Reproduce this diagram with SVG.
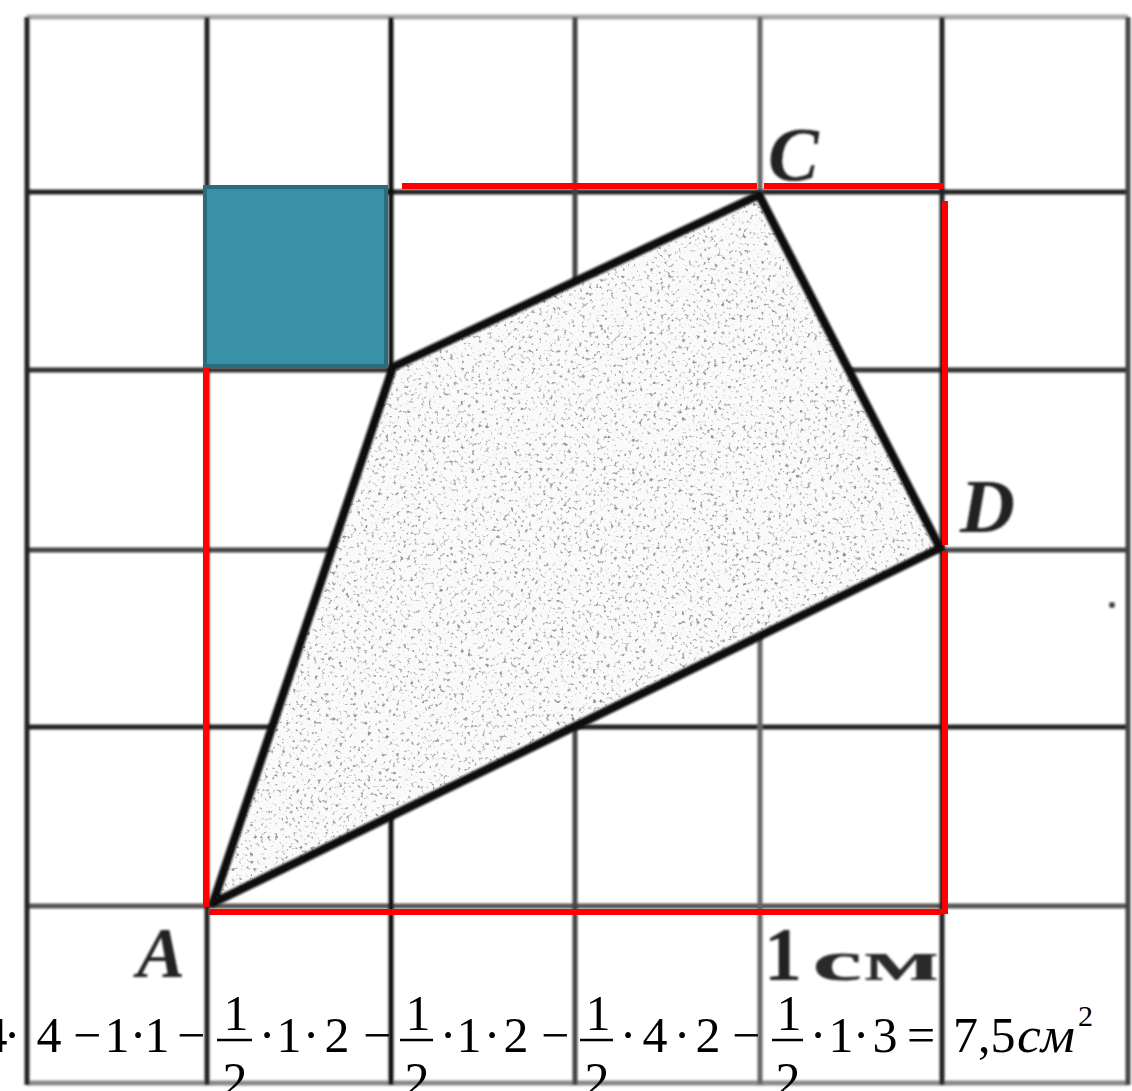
<svg xmlns="http://www.w3.org/2000/svg" width="1132" height="1091" viewBox="0 0 1132 1091">
<style>
.g{stroke-width:5;fill:none}
.red{stroke:#ff0000;stroke-width:6;fill:none}
.lbl{font-family:"Liberation Serif",serif;font-style:italic;font-weight:bold;fill:#222}
.m{font-family:"Liberation Serif",serif;font-size:50px;fill:#000;text-anchor:middle}
.bar{stroke:#000;stroke-width:2.5}
</style>
<defs>
<filter id="soft" x="-5%" y="-5%" width="110%" height="110%"><feGaussianBlur stdDeviation="0.9"/></filter>
<filter id="speckle" x="0" y="0" width="100%" height="100%">
<feTurbulence type="fractalNoise" baseFrequency="0.28" numOctaves="2" seed="7" result="n"/>
<feColorMatrix in="n" type="matrix" values="0 0 0 0 0.3  0 0 0 0 0.3  0 0 0 0 0.3  5 0 0 0 -2.95" result="dots"/>
<feComposite in="dots" in2="SourceGraphic" operator="in"/>
</filter>
</defs>
<rect width="1132" height="1091" fill="#ffffff"/>
<g id="grid" filter="url(#soft)">
<line class="g" x1="27" y1="17" x2="1128" y2="17" stroke="#aaa" stroke-width="8"/>
<line class="g" x1="27" y1="192" x2="1128" y2="192" stroke="#222"/>
<line class="g" x1="27" y1="370" x2="1128" y2="370" stroke="#333"/>
<line class="g" x1="27" y1="550" x2="1128" y2="550" stroke="#444"/>
<line class="g" x1="27" y1="727" x2="1128" y2="727" stroke="#222"/>
<line class="g" x1="27" y1="906" x2="1128" y2="906" stroke="#555"/>
<line class="g" x1="27" y1="1083" x2="1128" y2="1083" stroke="#888"/>
<line class="g" x1="27" y1="17" x2="27" y2="1085" stroke="#222"/>
<line class="g" x1="207" y1="17" x2="207" y2="1085" stroke="#222"/>
<line class="g" x1="391" y1="17" x2="391" y2="1085" stroke="#111"/>
<line class="g" x1="575" y1="17" x2="575" y2="1085" stroke="#444"/>
<line class="g" x1="760" y1="17" x2="760" y2="1085" stroke="#666" stroke-width="6"/>
<line class="g" x1="942" y1="17" x2="942" y2="1085" stroke="#222"/>
<line class="g" x1="1128" y1="17" x2="1128" y2="1085" stroke="#444"/>
<circle cx="1112" cy="605" r="3" fill="#444"/>
</g>
<g id="quad">
<polygon points="213,903 393,367 759,195 940,548" fill="#fafafa"/>
<polygon points="213,903 393,367 759,195 940,548" fill="#fff" filter="url(#speckle)"/>
<polygon points="213,903 393,367 759,195 940,548" fill="none" stroke="#111" stroke-width="8.5" stroke-linejoin="round" filter="url(#soft)"/>
</g>
<g id="square">
<rect x="205" y="187" width="181" height="179" fill="#3891a8" stroke="#2a6b7d" stroke-width="4"/>
</g>
<g id="redlines">
<line class="red" x1="402" y1="186" x2="757" y2="186"/>
<line class="red" x1="764" y1="186" x2="943" y2="186"/>
<line class="red" x1="945" y1="201" x2="945" y2="545"/>
<line class="red" x1="945" y1="551" x2="945" y2="914"/>
<line class="red" x1="206" y1="368" x2="206" y2="907"/>
<line class="red" x1="209" y1="912" x2="942" y2="912"/>
</g>
<g id="labels" filter="url(#soft)">
<text class="lbl" x="768" y="180" font-size="76">C</text>
<text class="lbl" x="960" y="532" font-size="76">D</text>
<text class="lbl" x="137" y="977" font-size="72">A</text>
<text x="764" y="980" font-family="Liberation Serif,serif" font-weight="bold" font-size="76" fill="#222">1</text>
<text x="812" y="980" font-family="Liberation Serif,serif" font-weight="bold" font-size="56" fill="#2a2a2a" textLength="128" lengthAdjust="spacingAndGlyphs">см</text>
</g>
<g id="formula">
<text class="m" x="-5" y="1052">4</text>
<text class="m" x="12" y="1052">·</text>
<text class="m" x="49" y="1052">4</text>
<text class="m" x="87" y="1052">−</text>
<text class="m" x="117" y="1052">1</text>
<text class="m" x="138" y="1052">·</text>
<text class="m" x="157" y="1052">1</text>
<text class="m" x="191" y="1052">−</text>
<line class="bar" x1="217" y1="1040" x2="252" y2="1040"/>
<text class="m" x="236" y="1030">1</text>
<text class="m" x="235" y="1097">2</text>
<text class="m" x="267" y="1052">·</text>
<text class="m" x="289" y="1052">1</text>
<text class="m" x="311" y="1052">·</text>
<text class="m" x="337" y="1052">2</text>
<text class="m" x="377" y="1052">−</text>
<line class="bar" x1="400" y1="1040" x2="433" y2="1040"/>
<text class="m" x="418" y="1030">1</text>
<text class="m" x="417" y="1097">2</text>
<text class="m" x="448" y="1052">·</text>
<text class="m" x="469" y="1052">1</text>
<text class="m" x="492" y="1052">·</text>
<text class="m" x="516" y="1052">2</text>
<text class="m" x="555" y="1052">−</text>
<line class="bar" x1="580" y1="1040" x2="613" y2="1040"/>
<text class="m" x="598" y="1030">1</text>
<text class="m" x="597" y="1097">2</text>
<text class="m" x="628" y="1052">·</text>
<text class="m" x="655" y="1052">4</text>
<text class="m" x="682" y="1052">·</text>
<text class="m" x="708" y="1052">2</text>
<text class="m" x="746" y="1052">−</text>
<line class="bar" x1="772" y1="1040" x2="803" y2="1040"/>
<text class="m" x="789" y="1030">1</text>
<text class="m" x="788" y="1097">2</text>
<text class="m" x="818" y="1052">·</text>
<text class="m" x="841" y="1052">1</text>
<text class="m" x="861" y="1052">·</text>
<text class="m" x="885" y="1052">3</text>
<text class="m" x="921" y="1052">=</text>
<text class="m" x="953" y="1052" style="text-anchor:start">7,5</text>
<text class="m" x="1017" y="1052" style="text-anchor:start;font-style:italic" textLength="58" lengthAdjust="spacingAndGlyphs">см</text>
<text class="m" x="1078" y="1026" style="text-anchor:start;font-size:30px">2</text>
</g>
</svg>
